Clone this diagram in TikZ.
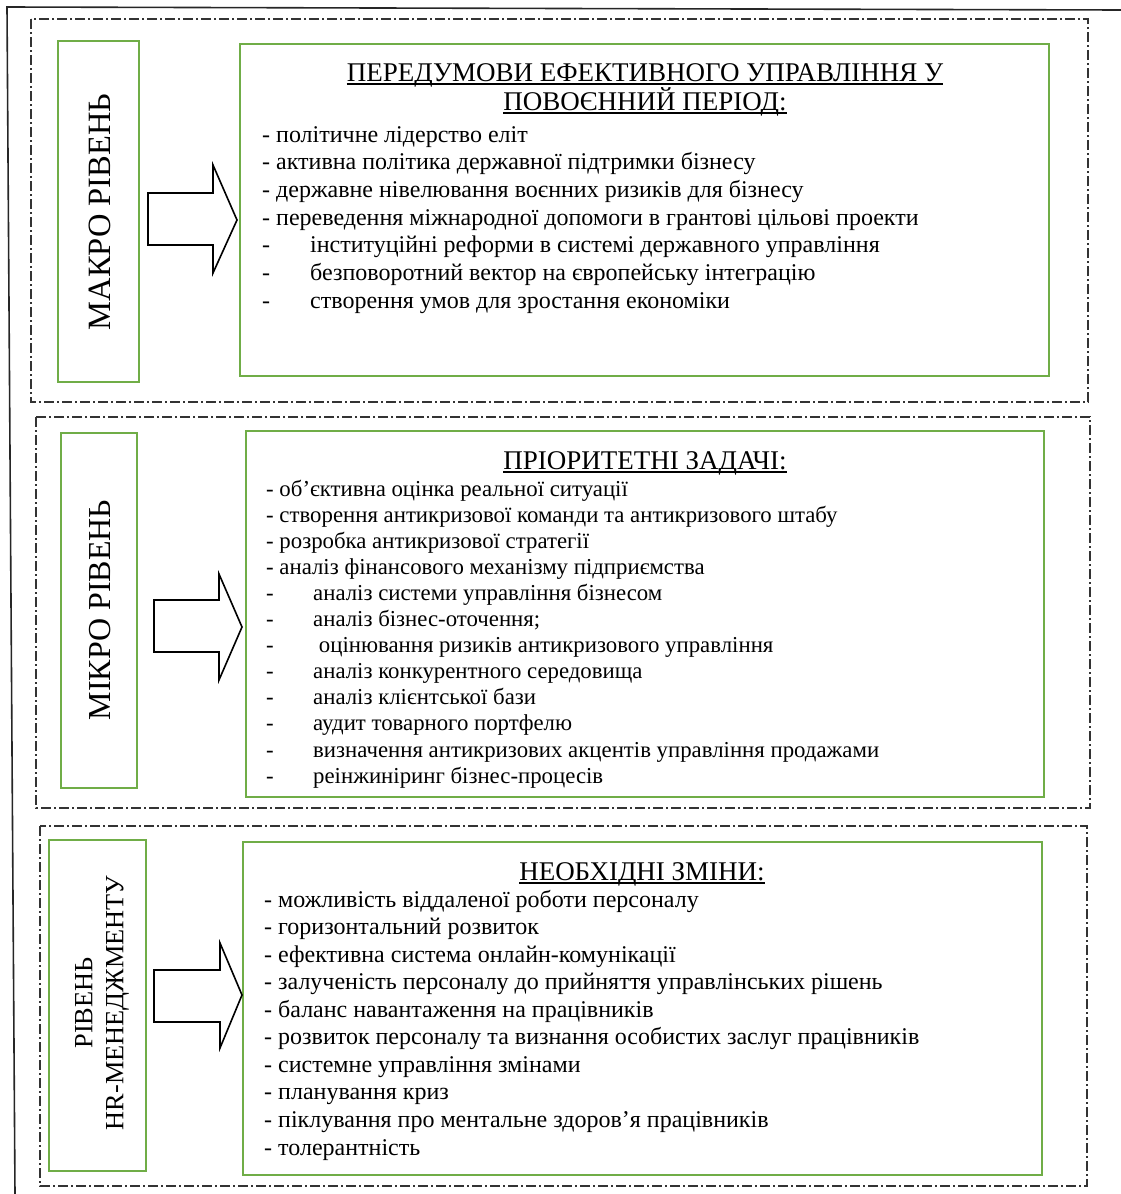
\documentclass[tikz,border=0pt]{standalone}
\usepackage{fontspec}
\setmainfont{Liberation Serif}
\definecolor{grn}{HTML}{70AD47}
\begin{document}
\begin{tikzpicture}[x=1pt,y=-1pt,
  frame/.style={line width=1.6pt,black!85},
  dashbox/.style={line width=1.1pt,black!80,dash pattern=on 10pt off 3pt on 2pt off 3pt},
  greenbox/.style={draw=grn,line width=2.6pt},
  item/.style={anchor=base west,inner sep=0pt,font=\fontsize{24}{28}\selectfont},
  itemb/.style={item,font=\fontsize{22.8}{27}\selectfont},
  ttl/.style={anchor=base,inner sep=0pt,font=\fontsize{27}{32}\selectfont},
  uline/.style={line width=1.6pt},
  side/.style={rotate=90,inner sep=0pt,align=center},
  barrow/.style={draw=black,line width=1.6pt,fill=white,line join=miter}]
\useasboundingbox (0,0) rectangle (1121,1194);
% outer frame
\coordinate (fTR) at (1121,10);
\coordinate (fTL) at (7,7);
\coordinate (fBL) at (15,1194);
\draw[frame] (fTR) -- (fTL) -- (fBL);
% dash-dot group boxes
\draw[dashbox] (31,19) rectangle (1088,402);
\draw[dashbox] (36,417) rectangle (1090,808);
\draw[dashbox] (40,826) rectangle (1087,1186);
% green boxes
\draw[greenbox] (58,41) rectangle (139,382);
\draw[greenbox] (240,44) rectangle (1049,376);
\draw[greenbox] (61,433) rectangle (137,788);
\draw[greenbox] (246,431) rectangle (1044,797);
\draw[greenbox] (49,840) rectangle (146,1171);
\draw[greenbox] (243,842) rectangle (1042,1175);
% side labels
\node[side,font=\fontsize{32.5}{38}\selectfont] (s1) at (100,212) {МАКРО РІВЕНЬ};
\node[side,font=\fontsize{32}{38}\selectfont] (s2) at (100,610) {МІКРО РІВЕНЬ};
\node[side,font=\fontsize{26.3}{31}\selectfont] (s3) at (102,1003) {РІВЕНЬ\\HR-МЕНЕДЖМЕНТУ};
% block arrows
\draw[barrow] (148,193) -- (213,193) -- (213,165) -- (237,220) -- (213,273) -- (213,245) -- (148,245) -- cycle;
\draw[barrow] (154,600) -- (219,600) -- (219,574) -- (242,627) -- (219,680) -- (219,652) -- (154,652) -- cycle;
\draw[barrow] (154,970) -- (220,970) -- (220,943) -- (242,995) -- (220,1048) -- (220,1022) -- (154,1022) -- cycle;
% box 1
\node[ttl] (t1a) at (645,81) {ПЕРЕДУМОВИ ЕФЕКТИВНОГО УПРАВЛІННЯ У};
\node[ttl] (t1b) at (645,110) {ПОВОЄННИЙ ПЕРІОД:};
\draw[uline] ([yshift=-3pt]t1a.base west) -- ([yshift=-3pt]t1a.base east);
\draw[uline] ([yshift=-3pt]t1b.base west) -- ([yshift=-3pt]t1b.base east);
\foreach \t [count=\i from 0] in {{політичне лідерство еліт},{активна політика державної підтримки бізнесу},{державне нівелювання воєнних ризиків для бізнесу},{переведення міжнародної допомоги в грантові цільові проекти}}
  \node[item] (a\i) at (262,142+27.67*\i) {- \t};
\foreach \t [count=\i from 4] in {{інституційні реформи в системі державного управління},{безповоротний вектор на європейську інтеграцію},{створення умов для зростання економіки}}{
  \node[item] (ad\i) at (262,142+27.67*\i) {-};
  \node[item] (a\i) at (310,142+27.67*\i) {\t};}
% box 2
\node[ttl] (t2) at (645,469) {ПРІОРИТЕТНІ ЗАДАЧІ:};
\draw[uline] ([yshift=-3pt]t2.base west) -- ([yshift=-3pt]t2.base east);
\foreach \t [count=\i from 0] in {{об’єктивна оцінка реальної ситуації},{створення антикризової команди та антикризового штабу},{розробка антикризової стратегії},{аналіз фінансового механізму підприємства}}
  \node[itemb] (b\i) at (266,496+26.1*\i) {- \t};
\foreach \t [count=\i from 4] in {{аналіз системи управління бізнесом},{аналіз бізнес-оточення;},{\ оцінювання ризиків антикризового управління},{аналіз конкурентного середовища},{аналіз клієнтської бази},{аудит товарного портфелю},{визначення антикризових акцентів управління продажами},{реінжиніринг бізнес-процесів}}{
  \node[itemb] (bd\i) at (266,496+26.1*\i) {-};
  \node[itemb] (b\i) at (313,496+26.1*\i) {\t};}
% box 3
\node[ttl] (t3) at (642,880) {НЕОБХІДНІ ЗМІНИ:};
\draw[uline] ([yshift=-3pt]t3.base west) -- ([yshift=-3pt]t3.base east);
\foreach \t [count=\i from 0] in {{можливість віддаленої роботи персоналу},{горизонтальний розвиток},{ефективна система онлайн-комунікації},{залученість персоналу до прийняття управлінських рішень},{баланс навантаження на працівників},{розвиток персоналу та визнання особистих заслуг працівників},{системне управління змінами},{планування криз},{піклування про ментальне здоров’я працівників},{толерантність}}
  \node[item] (c\i) at (264,907+27.56*\i) {- \t};
\end{tikzpicture}
\end{document}
